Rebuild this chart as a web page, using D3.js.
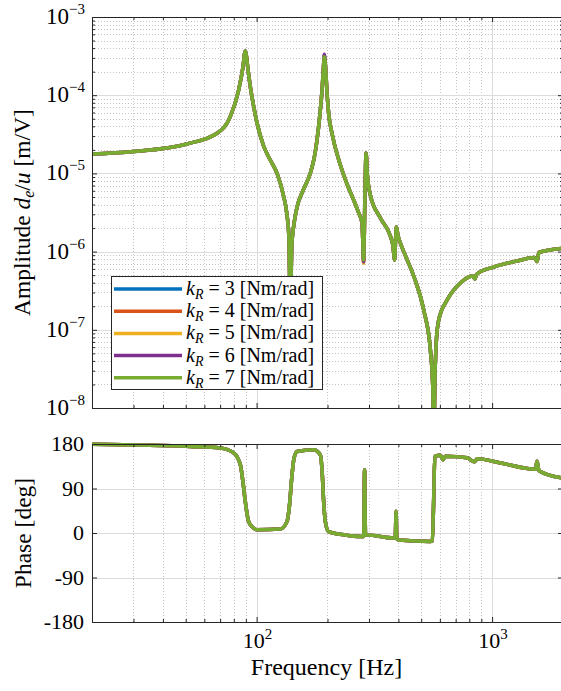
<!DOCTYPE html>
<meta charset="utf-8">
<style>

  body {
    margin: 0;
    background: #fff;
  }

  svg text {
    font-family: "Liberation Serif", "DejaVu Serif", "Times New Roman", serif;
    fill: #000;
  }

  .grid-major {
    stroke: #dcdcdc;
    stroke-width: 1px;
  }

  .grid-minor {
    stroke: #c4c4c4;
    stroke-width: 1px;
    stroke-dasharray: 1,2;
  }

  .curve {
    fill: none;
    stroke-width: 3.5px;
    stroke-linejoin: round;
  }

  .axis path, .axis line {
    stroke: #262626;
  }

</style>
<body>
<script src="https://d3js.org/d3.v7.min.js"></script>
<script>

// amplitude curve (Hz, m/V)
var freqAmp = [20, 30, 50.6, 67.9, 77.3, 83.9, 87.4, 89.5, 92.2, 94.5, 97.1, 100.4, 107.1, 114.3, 122.4, 129.9,
  134.6, 137.0, 139.1, 141.1, 143.9, 148.5, 157.9, 169.1, 175.9, 180.5, 185.6, 189.6, 192.0, 193.9, 196.8,
  198.7, 202.2, 209.7, 226.8, 242.8, 258.3, 270.4, 280.4, 284.8, 288.2, 291.6, 295.3, 304.1, 335.4, 369.8,
  379.0, 385.7, 389.1, 392.2, 398.0, 407.8, 432.5, 464.5, 512.3, 547.0, 560.5, 565.0, 571.5, 580.0, 593.2,
  644.1, 733.2, 824.6, 845.1, 857.7, 1015.8, 1277, 1512, 1553, 1580, 2000];

var amp = [1.77e-5, 1.905e-5, 2.38e-5, 3.26e-5, 5.31e-5, 1.165e-4, 2.23e-4, 3.67e-4, 1.98e-4, 1.165e-4, 7.28e-5,
  4.41e-5, 2.24e-5, 1.48e-5, 9.82e-6, 5.29e-6, 2.94e-6, 1.63e-6, 2.0e-7, 1.21e-6, 2.19e-6, 3.71e-6, 6.14e-6,
  1.01e-5, 1.62e-5, 2.67e-5, 5.58e-5, 1.165e-4, 2.10e-4, 3.17e-4, 1.98e-4, 1.165e-4, 5.92e-5, 3.10e-5, 1.28e-5,
  7.11e-6, 4.57e-6, 3.21e-6, 2.32e-6, 7.82e-7, 4.57e-6, 1.82e-5, 9.54e-6, 5.29e-6, 2.69e-6, 1.58e-6, 1.21e-6,
  7.82e-7, 1.41e-6, 2.06e-6, 1.63e-6, 1.29e-6, 8.28e-7, 4.88e-7, 1.79e-7, 5.52e-8, 1.70e-8, 3e-9, 2.28e-8,
  7.41e-8, 1.33e-7, 2.40e-7, 3.97e-7, 4.88e-7, 4.47e-7, 5.09e-7, 6.35e-7, 7.59e-7, 8.41e-7, 7.47e-7, 9.74e-7,
  1.10e-6];

// phase curve (Hz, deg)
var freqPh = [20, 52.3, 70.1, 79.9, 85.3, 87.4, 89.5, 92.5, 96, 100.4, 126.1, 134.6, 137.5, 141.4, 144, 148.5,
  174.6, 186.5, 190, 192.6, 196, 202.2, 238, 275.8, 284.8, 287.5, 290, 294.4, 382, 388, 391, 394, 401, 547,
  557.6, 565, 571, 603, 619, 633, 783, 841, 866, 1085, 1528, 1552, 1581, 2000];

var phase = [179.3, 175, 172, 162, 138, 105, 64, 23, 12, 6.5, 8, 23, 50, 118, 150, 165, 168.5, 158, 120, 64, 22,
  3, -4, -7, -7, 128, -4, -4, -10, -10, 44, -12, -14, -17, -16, 70, 155, 157, 148, 155, 152, 144, 150, 141.6,
  129, 145, 126, 111];

// the five stiffness cases only differ a hair at the 2nd peak and the 285 Hz dip
var kR = [3, 4, 5, 6, 7];
var peak2 = [3.25e-4, 3.2e-4, 3.2e-4, 3.35e-4, 3.1e-4];
var dip285 = [7.6e-7, 7.3e-7, 7.1e-7, 7.4e-7, 7.82e-7];
var colors = ["#0072BD", "#D95319", "#EDB120", "#7E2F8E", "#77AC30"];

var ampTicks = [1e-3, 1e-4, 1e-5, 1e-6, 1e-7, 1e-8];
var ampTickExp = ["\u22123", "\u22124", "\u22125", "\u22126", "\u22127", "\u22128"];
var phTicks = [180, 90, 0, -90, -180];
var phTickLabels = ["180", "90", "0", "-90", "-180"];
var freqTicks = [100, 1000];
var freqTickExp = ["2", "3"];

var width = 561,
    height = 691;

var left = 92, right = 563,
    ampTop = 17, ampBottom = 408,
    phTop = 444, phBottom = 622;

var svg = d3.select("body").append("svg")
  .attr("width", width)
  .attr("height", height);

var x = d3.scaleLog().domain([20, 2000]).range([left, right]);
var yAmp = d3.scaleLog().domain([1e-8, 1e-3]).range([ampBottom, ampTop]);
var yPh = d3.scaleLinear().domain([-180, 180]).range([phBottom, phTop]);

var xMinor = x.ticks().filter(function(d) { return freqTicks.indexOf(d) < 0; });
var ampMinor = yAmp.ticks().filter(function(d) {
  return ampTicks.every(function(t) { return Math.abs(t - d) / t > 1e-6; });
});

var defs = svg.append("defs");
defs.append("clipPath").attr("id", "clipAmp").append("rect")
  .attr("x", left).attr("y", ampTop - 2).attr("width", right - left).attr("height", ampBottom - ampTop + 2);
defs.append("clipPath").attr("id", "clipPh").append("rect")
  .attr("x", left).attr("y", phTop - 2).attr("width", right - left).attr("height", phBottom - phTop + 4);

function grid(g, top, bottom, yScale, yMajor, yMin) {
  g.selectAll(".xmin").data(xMinor).enter().append("line")
    .attr("class", "grid-minor")
    .attr("x1", function(d) { return Math.round(x(d)) + 0.5; })
    .attr("x2", function(d) { return Math.round(x(d)) + 0.5; })
    .attr("y1", top).attr("y2", bottom);
  g.selectAll(".ymin").data(yMin).enter().append("line")
    .attr("class", "grid-minor")
    .attr("x1", left).attr("x2", right)
    .attr("y1", function(d) { return Math.round(yScale(d)) + 0.5; })
    .attr("y2", function(d) { return Math.round(yScale(d)) + 0.5; });
  g.selectAll(".xmaj").data(freqTicks).enter().append("line")
    .attr("class", "grid-major")
    .attr("x1", function(d) { return Math.round(x(d)) + 0.5; })
    .attr("x2", function(d) { return Math.round(x(d)) + 0.5; })
    .attr("y1", top).attr("y2", bottom);
  g.selectAll(".ymaj").data(yMajor).enter().append("line")
    .attr("class", "grid-major")
    .attr("x1", left).attr("x2", right)
    .attr("y1", function(d) { return Math.round(yScale(d)) + 0.5; })
    .attr("y2", function(d) { return Math.round(yScale(d)) + 0.5; });
}

grid(svg.append("g"), ampTop, ampBottom, yAmp, ampTicks, ampMinor);
grid(svg.append("g"), phTop, phBottom, yPh, phTicks, []);

var ampLine = d3.line()
  .x(function(d) { return x(d[0]); })
  .y(function(d) { return yAmp(d[1]); })
  .curve(d3.curveMonotoneX);

var phLine = d3.line()
  .x(function(d) { return x(d[0]); })
  .y(function(d) { return yPh(d[1]); })
  .curve(d3.curveMonotoneX);

var ampSeries = kR.map(function(k, i) {
  return freqAmp.map(function(f, j) {
    var v = amp[j];
    if (f === 193.9) v = peak2[i];
    if (f === 284.8) v = dip285[i];
    return [f, v];
  });
});
var phSeries = d3.zip(freqPh, phase);

svg.append("g").attr("clip-path", "url(#clipAmp)")
  .selectAll("path").data(ampSeries).enter().append("path")
    .attr("class", "curve")
    .attr("d", ampLine)
    .style("stroke", function(d, i) { return colors[i]; });

svg.append("g").attr("clip-path", "url(#clipPh)")
  .selectAll("path").data(kR).enter().append("path")
    .attr("class", "curve")
    .attr("d", phLine(phSeries))
    .style("stroke", function(d, i) { return colors[i]; });

// frames and inward ticks
function frame(top, bottom, yScale, yMajor, yMin) {
  var h = bottom - top, w = right - left;
  var ax = [
    [d3.axisBottom(x), bottom, 0],
    [d3.axisTop(x), top, 0],
    [d3.axisLeft(yScale), 0, left],
    [d3.axisRight(yScale), 0, right]
  ];
  ax.forEach(function(a, i) {
    var horiz = i < 2;
    var major = horiz ? freqTicks : yMajor;
    var minor = horiz ? xMinor : yMin;
    var g = svg.append("g").attr("class", "axis")
      .attr("transform", "translate(" + a[2] + "," + a[1] + ")");
    g.call(a[0].tickValues(major).tickSize(-5).tickSizeOuter(0).tickFormat(""));
    g.select(".domain").remove();
    var g2 = svg.append("g").attr("class", "axis")
      .attr("transform", "translate(" + a[2] + "," + a[1] + ")");
    g2.call(a[0].tickValues(minor).tickSize(-3).tickSizeOuter(0).tickFormat(""));
    g2.select(".domain").remove();
  });
  svg.append("rect")
    .attr("x", left + 0.5).attr("y", top + 0.5)
    .attr("width", w).attr("height", h)
    .style("fill", "none").style("stroke", "#262626").style("stroke-width", 1);
}

frame(ampTop, ampBottom, yAmp, ampTicks, ampMinor);
frame(phTop, phBottom, yPh, phTicks, []);

// tick labels
var ampLab = svg.selectAll(".amplab").data(ampTicks).enter().append("text")
  .attr("x", 85)
  .attr("y", function(d) { return yAmp(d) + 7; })
  .style("font-size", "23px")
  .style("text-anchor", "end");
ampLab.append("tspan").text("10");
ampLab.append("tspan").attr("dy", -10).style("font-size", "15px")
  .text(function(d, i) { return ampTickExp[i]; });

svg.selectAll(".phlab").data(phTicks).enter().append("text")
  .attr("x", 84)
  .attr("y", function(d) { return yPh(d) + 7; })
  .style("font-size", "22px")
  .style("text-anchor", "end")
  .text(function(d, i) { return phTickLabels[i]; });

var fLab = svg.selectAll(".flab").data(freqTicks).enter().append("text")
  .attr("x", function(d) { return x(d) + 1; })
  .attr("y", 648)
  .style("font-size", "22px")
  .style("text-anchor", "middle");
fLab.append("tspan").text("10");
fLab.append("tspan").attr("dy", -9).style("font-size", "15px")
  .text(function(d, i) { return freqTickExp[i]; });

// axis titles
var yt = svg.append("text")
  .attr("transform", "translate(30," + (ampTop + ampBottom) / 2 + ") rotate(-90)")
  .style("font-size", "23.5px")
  .style("text-anchor", "middle");
yt.append("tspan").text("Amplitude ");
yt.append("tspan").style("font-style", "italic").text("d");
yt.append("tspan").style("font-style", "italic").style("font-size", "16px").attr("dy", 4).text("e");
yt.append("tspan").attr("dy", -4).text("/");
yt.append("tspan").style("font-style", "italic").text("u");
yt.append("tspan").text(" [m/V]");

svg.append("text")
  .attr("transform", "translate(31," + (phTop + phBottom) / 2 + ") rotate(-90)")
  .style("font-size", "23.5px")
  .style("text-anchor", "middle")
  .text("Phase [deg]");

svg.append("text")
  .attr("x", (left + right) / 2 - 1)
  .attr("y", 675)
  .style("font-size", "24px")
  .style("text-anchor", "middle")
  .text("Frequency [Hz]");

// legend
var lg = svg.append("g");
lg.append("rect")
  .attr("x", 111.5).attr("y", 276.5)
  .attr("width", 211).attr("height", 113)
  .style("fill", "#fff").style("stroke", "#262626").style("stroke-width", 1);

var item = lg.selectAll(".item").data(kR).enter().append("g")
  .attr("transform", function(d, i) { return "translate(0," + (289 + i * 22.2) + ")"; });
item.append("line")
  .attr("x1", 114).attr("x2", 182)
  .style("stroke", function(d, i) { return colors[i]; })
  .style("stroke-width", 3.5);
var lt = item.append("text")
  .attr("x", 186).attr("y", 6)
  .style("font-size", "20px");
lt.append("tspan").style("font-style", "italic").text("k");
lt.append("tspan").style("font-style", "italic").style("font-size", "14px").attr("dy", 4).text("R");
lt.append("tspan").attr("dy", -4).text(function(d) { return " = " + d + " [Nm/rad]"; });

</script>
